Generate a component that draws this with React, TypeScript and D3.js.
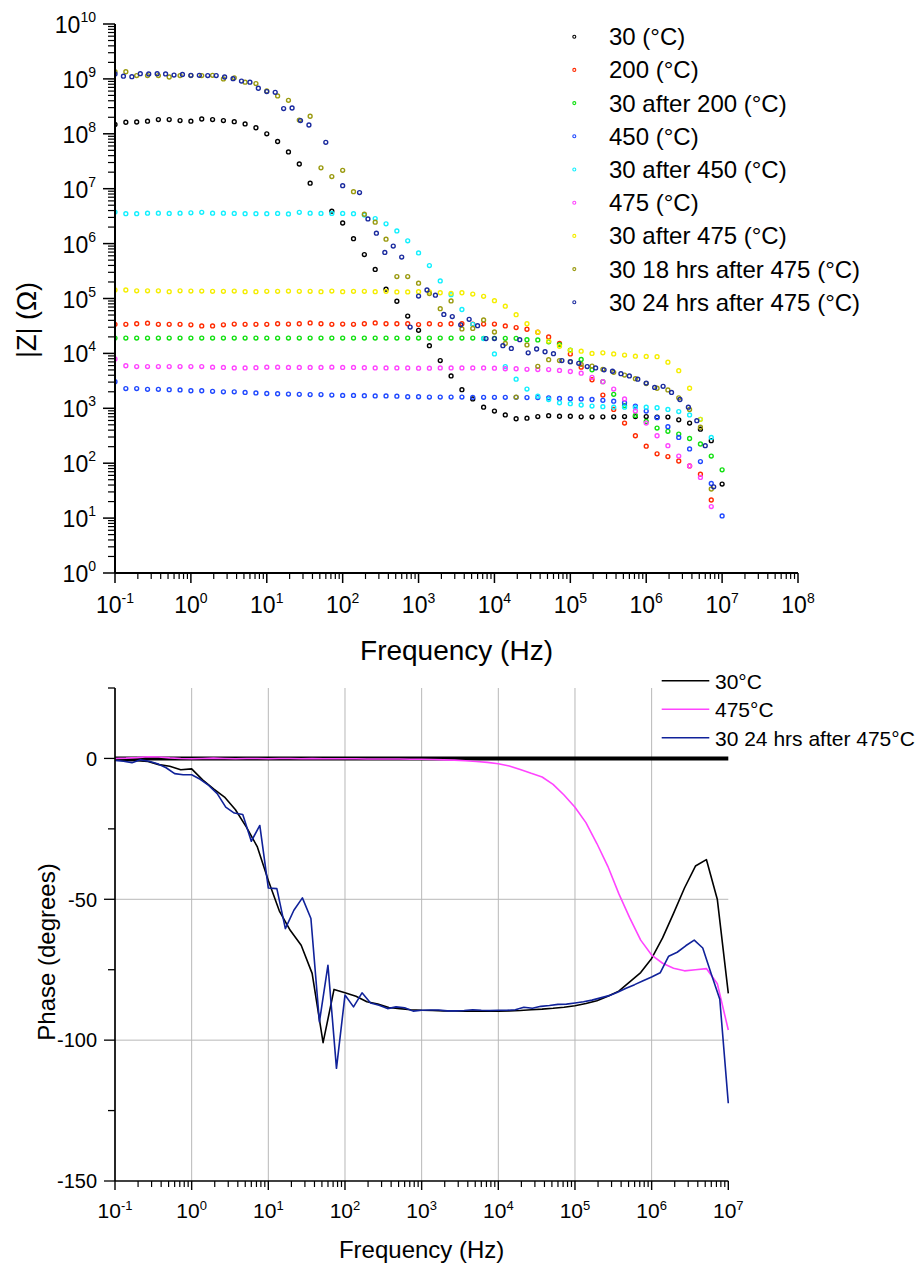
import React from "react";
import * as d3 from "d3";

const FONT = "Arial, 'Liberation Sans', Helvetica, sans-serif";

// Sweep frequency grids, starting at 0.1 Hz
const FREQ_7PD = d3.range(57).map((k) => 0.1 * Math.pow(10, k / 7)); // 7 points per decade
const FREQ_9PD = d3.range(73).map((j) => 0.1 * Math.pow(10, j / 9)); // 9 points per decade

// ---- Impedance magnitude, log10(|Z| / ohm); null = point not recorded ----
const logZ_30 = [
  8.17, 8.21, 8.215, 8.23, 8.26, 8.26, 8.24, 8.23, 8.27, 8.26, 8.24, 8.22, 8.18, 8.11, 8.0, 7.86,
  7.67, 7.45, 7.1, null, 6.59, 6.375, 6.09, 5.8, 5.53, 5.17, 4.95, 4.68, 4.42, 4.14, 3.87, 3.59,
  3.34, 3.17, 3.02, 2.95, 2.88, 2.81, 2.82, 2.85, 2.865, 2.855, 2.855, 2.845, 2.845, 2.845, 2.845,
  2.85, 2.85, 2.85, 2.84, 2.84, 2.79, 2.73, 2.62, 2.41, 1.62,
];
const logZ_200 = [
  4.53, 4.53, 4.54, 4.55, 4.53, 4.53, 4.53, 4.52, 4.5, 4.5, 4.52, 4.535, 4.53, 4.53, 4.53, 4.54,
  4.535, 4.54, 4.555, 4.54, 4.53, 4.535, 4.53, 4.54, 4.555, 4.54, 4.54, 4.54, 4.525, 4.54, 4.53,
  4.54, 4.54, 4.535, 4.535, 4.535, 4.5, 4.47, 4.44, 4.385, 4.3, 4.18, 3.99, 3.75, 3.52, 3.24, 2.98,
  2.73, 2.5, 2.31, 2.17, 2.12, 2.04, 1.95, 1.8, 1.33, null,
];
const logZ_30after200 = [
  4.28, 4.28, 4.28, 4.28, 4.28, 4.28, 4.28, 4.28, 4.28, 4.28, 4.28, 4.28, 4.28, 4.28, 4.28, 4.28,
  4.28, 4.28, 4.28, 4.28, 4.28, 4.28, 4.28, 4.28, 4.28, 4.28, 4.28, 4.28, 4.28, 4.28, 4.28, 4.28,
  4.28, 4.28, 4.275, 4.275, 4.275, 4.275, 4.25, 4.245, 4.21, 4.16, 4.06, 3.89, 3.7, 3.485, 3.255,
  3.05, 2.87, 2.76, 2.64, 2.58, 2.53, 2.45, 2.35, 2.13, 1.88,
];
const logZ_450 = [
  3.485, 3.36, 3.36, 3.345, 3.345, 3.34, 3.335, 3.32, 3.32, 3.31, 3.3, 3.3, 3.29, 3.28, 3.27, 3.265,
  3.26, 3.255, 3.25, 3.25, 3.24, 3.235, 3.235, 3.23, 3.225, 3.225, 3.22, 3.21, 3.21, 3.205, 3.205,
  3.205, 3.205, 3.2, 3.2, 3.2, 3.2, 3.2, 3.195, 3.195, 3.19, 3.18, 3.175, 3.17, 3.16, 3.145, 3.13,
  3.1, 3.04, 2.95, 2.83, 2.665, 2.47, 2.26, 2.03, 1.63, 1.04,
];
const logZ_30after450 = [
  6.575, 6.545, 6.545, 6.555, 6.555, 6.55, 6.555, 6.56, 6.57, 6.555, 6.555, 6.55, 6.545, 6.545,
  6.545, 6.55, 6.54, 6.57, 6.555, 6.55, 6.55, 6.55, 6.545, 6.52, 6.455, 6.36, 6.23, 6.05, 5.83, 5.6,
  5.32, 5.07, 4.8, 4.53, 4.27, 3.99, 3.76, 3.53, 3.35, 3.22, 3.16, 3.1, 3.085, 3.06, 3.04, 3.03,
  3.02, 3.02, 3.01, 3.02, 3.01, 2.98, 2.94, 2.88, 2.8, 2.47, null,
];
const logZ_475 = [
  3.9, 3.775, 3.76, 3.76, 3.76, 3.76, 3.76, 3.76, 3.76, 3.75, 3.745, 3.735, 3.735, 3.74, 3.75, 3.75,
  3.745, 3.745, 3.745, 3.745, 3.75, 3.745, 3.745, 3.74, 3.735, 3.735, 3.735, 3.735, 3.73, 3.73,
  3.735, 3.735, 3.735, 3.735, 3.735, 3.73, 3.72, 3.72, 3.71, 3.705, 3.705, 3.69, 3.67, 3.64, 3.565,
  3.485, 3.35, 3.17, 2.95, 2.73, 2.5, 2.32, 2.13, 1.95, 1.74, 1.21, null,
];
const logZ_30after475 = [
  5.155, 5.155, 5.14, 5.14, 5.14, 5.125, 5.14, 5.135, 5.135, 5.13, 5.13, 5.135, 5.125, 5.125, 5.13,
  5.13, 5.135, 5.13, 5.13, 5.125, 5.135, 5.125, 5.13, 5.13, 5.125, 5.13, 5.12, 5.12, 5.125, 5.12,
  5.105, 5.095, 5.105, 5.08, 5.04, 4.96, 4.86, 4.705, 4.54, 4.385, 4.225, 4.13, 4.055, 4.04, 4.0,
  4.01, 3.99, 3.97, 3.95, 3.945, 3.94, 3.84, 3.685, 3.365, 2.8, null, null,
];
const logZ_30after18h = [
  9.13, 9.13, 9.06, 9.06, 9.06, 9.035, 9.06, 9.06, 9.06, 9.065, 9.0, 9.02, 8.94, 8.915, 8.78, 8.69,
  8.61, 8.25, 8.32, 7.38, 7.22, 7.335, 6.945, 6.535, 6.39, 6.08, 5.4, 5.4, 5.28, 5.09, 4.815, 4.955,
  4.445, 4.455, 4.61, 4.39, 4.18, 3.205, 4.155, 3.765, 3.885, 3.87, 3.85, 3.8, 3.77, 3.71, 3.655,
  3.605, 3.54, 3.45, 3.365, 3.335, 3.19, 2.98, 2.655, 1.53, null,
];
// recorded on the 9-per-decade sweep
const logZ_30after24h = [
  9.09, 9.05, 9.04, 9.095, 9.09, 9.095, 9.09, 9.07, 9.08, 9.065, 9.065, 9.06, 9.06, 9.035, 9.005,
  8.96, 8.94, 8.83, 8.77, 8.755, 8.46, 8.47, 8.24, 8.16, null, 7.845, null, 7.055, null, 6.93, 6.45,
  6.19, 5.84, 5.955, 5.755, 4.48, 5.045, 5.155, 5.06, 4.71, 4.67, 4.52, 4.62, 4.505, 4.27, 4.27,
  4.14, 4.09, 4.25, 4.01, 4.08, 4.03, 3.995, 3.87, 3.85, 3.82, 3.76, 3.735, 3.7, 3.675, 3.63, 3.59,
  3.53, 3.46, 3.38, 3.4, 3.29, 3.16, 3.02, 2.775, 2.32, 1.57, null,
];

// ---- Phase angle (degrees) ----
const phase_30 = [
  -0.5, -0.7, -0.8, -1.1, -2.2, -2.8, -4.0, -3.7, -7.6, -10.8, -13.7, -18.2, -24.4, -31.4, -43.3,
  -54.1, -61.0, -66.3, -76.3, -100.9, -82.0, -83.2, -84.4, -86.4, -87.2, -88.4, -88.8, -89.2, -89.4,
  -89.5, -89.6, -89.6, -89.7, -89.7, -89.7, -89.7, -89.6, -89.5, -89.2, -89.0, -88.7, -88.3, -87.8,
  -87.0, -86.0, -84.4, -82.6, -79.3, -76.0, -71.0, -63.7, -55.0, -46.0, -38.2, -35.9, -50.1, -83.4,
];
const phase_475 = [
  0.0, 0.1, 0.3, 0.6, 0.5, 0.2, 0.0, -0.1, 0.0, 0.1, 0.0, -0.1, 0.0, 0.0, -0.1, 0.0, 0.0, -0.1, 0.0,
  -0.1, -0.1, -0.1, -0.1, -0.2, -0.2, -0.2, -0.2, -0.3, -0.3, -0.4, -0.5, -0.6, -0.8, -1.1, -1.4,
  -1.9, -2.7, -3.9, -5.3, -6.6, -9.2, -13.0, -17.3, -22.8, -30.2, -38.3, -48.0, -56.6, -64.5, -69.8,
  -72.7, -74.5, -75.4, -75.0, -74.6, -80.0, -96.4,
];
const phase_30after24h = [
  -0.7, -1.0, -1.5, -0.5, -1.0, -1.9, -3.3, -5.4, -5.8, -5.8, -7.4, -9.6, -12.5, -17.3, -19.4, -19.9,
  -29.4, -23.8, -46.0, -46.2, -60.4, -53.9, -49.5, -56.8, -93.5, -73.4, -110.0, -84.0, -88.2, -83.2,
  -86.8, -87.6, -88.8, -88.2, -88.5, -89.7, -89.4, -89.3, -89.3, -89.6, -89.6, -89.5, -89.2, -89.4,
  -89.5, -89.4, -89.4, -89.2, -88.3, -88.7, -88.0, -87.7, -87.3, -87.2, -86.8, -86.4, -85.8, -85.0,
  -84.2, -83.0, -81.6, -80.3, -78.9, -77.6, -76.1, -70.2, -68.8, -66.5, -64.5, -67.3, -76.5, -85.5,
  -122.4,
];
// reference line at 0 degrees
const zeroRefFreq = [0.1, 1e7];
const zeroRefPhase = [0, 0];

const magSeries = [
  { label: "30 (\u00B0C)", color: "#000000", freq: FREQ_7PD, logZ: logZ_30 },
  { label: "200 (\u00B0C)", color: "#ff2a00", freq: FREQ_7PD, logZ: logZ_200 },
  { label: "30 after 200 (\u00B0C)", color: "#11e011", freq: FREQ_7PD, logZ: logZ_30after200 },
  { label: "450 (\u00B0C)", color: "#1f48ff", freq: FREQ_7PD, logZ: logZ_450 },
  { label: "30 after 450 (\u00B0C)", color: "#11f0ff", freq: FREQ_7PD, logZ: logZ_30after450 },
  { label: "475 (\u00B0C)", color: "#ff44ff", freq: FREQ_7PD, logZ: logZ_475 },
  { label: "30 after 475 (\u00B0C)", color: "#f5ee00", freq: FREQ_7PD, logZ: logZ_30after475 },
  { label: "30 18 hrs after 475 (\u00B0C)", color: "#9a9a10", freq: FREQ_7PD, logZ: logZ_30after18h },
  { label: "30 24 hrs after 475 (\u00B0C)", color: "#1a2a9e", freq: FREQ_9PD, logZ: logZ_30after24h },
];

const phaseSeries = [
  { label: "30\u00B0C", color: "#000000", freq: FREQ_7PD, phase: phase_30 },
  { label: "475\u00B0C", color: "#ff44ff", freq: FREQ_7PD, phase: phase_475 },
  { label: "30 24 hrs after 475\u00B0C", color: "#10229a", freq: FREQ_9PD, phase: phase_30after24h },
];

const topExps = d3.range(-1, 9); // x decades, top panel
const magExps = d3.range(0, 11); // y decades, top panel
const botExps = d3.range(-1, 8); // x decades, bottom panel
const phaseTicks = [-150, -125, -100, -75, -50, -25, 0, 25];
const phaseLabels = [-150, -100, -50, 0];
const phaseGrid = [-100, -50];

// ---- Layout ----
const xTop = d3.scaleLog().domain([0.1, 1e8]).range([115, 798]);
const yTop = d3.scaleLog().domain([1, 1e10]).range([573, 24]);
const xBot = d3.scaleLog().domain([0.1, 1e7]).range([115, 728.3]);
const yBot = d3.scaleLinear().domain([-150, 25]).range([1181, 688]);

function minorValues(exps: number[]) {
  const out: number[] = [];
  exps.slice(0, -1).forEach((e) => {
    for (let m = 2; m <= 9; m++) out.push(m * Math.pow(10, e));
  });
  return out;
}

function Pow10({ x, y, exp, anchor, size, supSize, rise }: any) {
  return (
    <text x={x} y={y} textAnchor={anchor} fontSize={size} fontFamily={FONT} fill="#000">
      10
      <tspan dy={-rise} fontSize={supSize}>
        {String(exp)}
      </tspan>
    </text>
  );
}

function TopPanel() {
  const [x0, x1] = xTop.range();
  const [yb, yt] = yTop.range();
  return (
    <g>
      <defs>
        <clipPath id="topClip">
          <rect x={x0} y={yt - 10} width={x1 - x0 + 10} height={yb - yt + 10} />
        </clipPath>
      </defs>
      {/* markers */}
      <g clipPath="url(#topClip)">
        {magSeries.map((s, si) => (
          <g key={si}>
            {s.logZ.map((v, i) =>
              v == null ? null : (
                <circle
                  key={i}
                  cx={xTop(s.freq[i])}
                  cy={yTop(Math.pow(10, v))}
                  r={1.95}
                  fill="none"
                  stroke={s.color}
                  strokeWidth={1.4}
                />
              )
            )}
          </g>
        ))}
      </g>
      {/* y axis */}
      <line x1={x0} x2={x0} y1={yt} y2={yb} stroke="#000" strokeWidth={2} />
      {minorValues(magExps).map((v, i) => (
        <line key={i} x1={x0 - 7} x2={x0} y1={yTop(v)} y2={yTop(v)} stroke="#000" strokeWidth={1.2} />
      ))}
      {magExps.map((e) => (
        <g key={e}>
          <line x1={x0 - 12} x2={x0} y1={yTop(Math.pow(10, e))} y2={yTop(Math.pow(10, e))} stroke="#000" strokeWidth={1.5} />
          <Pow10 x={96} y={yTop(Math.pow(10, e)) + 9} exp={e} anchor="end" size={23} supSize={14} rise={11} />
        </g>
      ))}
      {/* x axis */}
      <line x1={x0} x2={x1} y1={yb} y2={yb} stroke="#000" strokeWidth={2} />
      {minorValues(topExps).map((v, i) => (
        <line key={i} x1={xTop(v)} x2={xTop(v)} y1={yb} y2={yb + 6} stroke="#000" strokeWidth={1.2} />
      ))}
      {topExps.map((e) => (
        <g key={e}>
          <line x1={xTop(Math.pow(10, e))} x2={xTop(Math.pow(10, e))} y1={yb} y2={yb + 10} stroke="#000" strokeWidth={1.5} />
          <Pow10 x={xTop(Math.pow(10, e))} y={613} exp={e} anchor="middle" size={23} supSize={14} rise={10} />
        </g>
      ))}
      <text x={(x0 + x1) / 2} y={660} textAnchor="middle" fontSize={28} fontFamily={FONT}>
        Frequency (Hz)
      </text>
      <text
        transform={`translate(27,320) rotate(-90)`}
        textAnchor="middle"
        dominantBaseline="central"
        fontSize={27}
        fontFamily={FONT}
      >
        |Z| ({"\u03A9"})
      </text>
      {/* legend */}
      {magSeries.map((s, i) => {
        const y = 36.7 + i * 33.2;
        return (
          <g key={i}>
            <circle cx={574.3} cy={y} r={1.5} fill="none" stroke={s.color} strokeWidth={1.1} />
            <text x={609} y={y + 8.4} fontSize={24} fontFamily={FONT}>
              {s.label}
            </text>
          </g>
        );
      })}
    </g>
  );
}

function BottomPanel() {
  const [x0, x1] = xBot.range();
  const [yb, yt] = yBot.range();
  const line = d3
    .line<[number, number | null]>()
    .defined((d) => d[1] != null)
    .x((d) => xBot(d[0]))
    .y((d) => yBot(d[1] as number));
  const zeroPath = line(zeroRefFreq.map((f, i) => [f, zeroRefPhase[i]]));
  return (
    <g>
      {/* grid */}
      {botExps.slice(1, -1).map((e) => (
        <line key={e} x1={xBot(Math.pow(10, e))} x2={xBot(Math.pow(10, e))} y1={yt} y2={yb} stroke="#b8b8b8" strokeWidth={1} />
      ))}
      {phaseGrid.map((v) => (
        <line key={v} x1={x0} x2={x1} y1={yBot(v)} y2={yBot(v)} stroke="#b8b8b8" strokeWidth={1} />
      ))}
      {/* data */}
      <path d={zeroPath || ""} fill="none" stroke="#000" strokeWidth={4} />
      {phaseSeries.map((s, si) => (
        <path
          key={si}
          d={line(s.freq.map((f, i) => [f, s.phase[i]])) || ""}
          fill="none"
          stroke={s.color}
          strokeWidth={1.6}
          strokeLinejoin="round"
        />
      ))}
      {/* y axis */}
      <line x1={x0} x2={x0} y1={yt} y2={yb} stroke="#000" strokeWidth={1.7} />
      {phaseTicks.map((v) => {
        const major = phaseLabels.includes(v);
        return (
          <g key={v}>
            <line x1={x0 - (major ? 11 : 7)} x2={x0} y1={yBot(v)} y2={yBot(v)} stroke="#000" strokeWidth={1.3} />
            {major && (
              <text x={97} y={yBot(v) + 7.3} textAnchor="end" fontSize={20} fontFamily={FONT}>
                {String(v)}
              </text>
            )}
          </g>
        );
      })}
      {/* x axis */}
      <line x1={x0} x2={x1} y1={yb} y2={yb} stroke="#000" strokeWidth={1.7} />
      {minorValues(botExps).map((v, i) => (
        <line key={i} x1={xBot(v)} x2={xBot(v)} y1={yb} y2={yb + 6} stroke="#000" strokeWidth={1.2} />
      ))}
      {botExps.map((e) => (
        <g key={e}>
          <line x1={xBot(Math.pow(10, e))} x2={xBot(Math.pow(10, e))} y1={yb} y2={yb + 9} stroke="#000" strokeWidth={1.4} />
          <Pow10 x={xBot(Math.pow(10, e))} y={1218} exp={e} anchor="middle" size={21} supSize={13} rise={8.5} />
        </g>
      ))}
      <text x={(x0 + x1) / 2} y={1258} textAnchor="middle" fontSize={24} fontFamily={FONT}>
        Frequency (Hz)
      </text>
      <text
        transform={`translate(46,952) rotate(-90)`}
        textAnchor="middle"
        dominantBaseline="central"
        fontSize={24}
        fontFamily={FONT}
      >
        Phase (degrees)
      </text>
      {/* legend */}
      {phaseSeries.map((s, i) => {
        const y = 680.7 + i * 28.5;
        return (
          <g key={i}>
            <line x1={661.7} x2={709.3} y1={y} y2={y} stroke={s.color} strokeWidth={1.6} />
            <text x={715} y={y + 8.2} fontSize={21} fontFamily={FONT}>
              {s.label}
            </text>
          </g>
        );
      })}
    </g>
  );
}

export default function App() {
  return (
    <svg
      width={920}
      height={1266}
      viewBox="0 0 920 1266"
      style={{ position: "absolute", left: 0, top: 0, background: "#fff" }}
    >
      <rect width={920} height={1266} fill="#fff" />
      <TopPanel />
      <BottomPanel />
    </svg>
  );
}
